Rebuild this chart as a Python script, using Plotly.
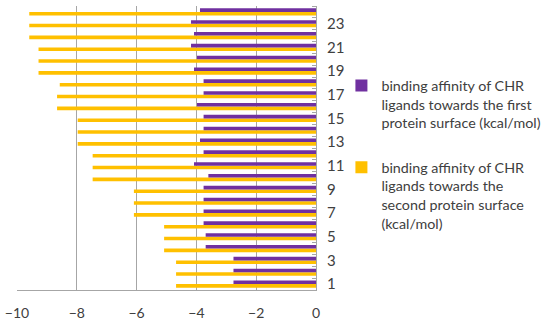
import plotly.graph_objects as go

categories = list(range(1, 25))
first_surface = [-2.76, -2.76, -2.76, -3.69, -3.69, -3.76, -3.76, -3.76, -3.76, -3.6, -4.08, -3.76,
                 -3.88, -3.76, -3.76, -3.98, -3.76, -3.76, -4.08, -3.98, -4.18, -4.08, -4.18, -3.88]
second_surface = [-4.68, -4.68, -4.68, -5.08, -5.08, -5.08, -6.09, -6.09, -6.09, -7.47, -7.47, -7.47,
                  -7.97, -7.97, -7.97, -8.66, -8.66, -8.57, -9.28, -9.28, -9.28, -9.59, -9.59, -9.59]
x_ticks = [-10, -8, -6, -4, -2, 0]
y_ticks = [1, 3, 5, 7, 9, 11, 13, 15, 17, 19, 21, 23]

name1 = "binding affinity of CHR<br>ligands towards the first<br>protein surface (kcal/mol)"
name2 = "binding affinity of CHR<br>ligands towards the<br>second protein surface<br>(kcal/mol)"

fig = go.Figure()
fig.add_trace(go.Bar(y=categories, x=second_surface, orientation="h", name=name2,
                     marker=dict(color="#FFC000", line=dict(width=0)), legendrank=2, legendgroup="b"))
fig.add_trace(go.Bar(y=categories, x=first_surface, orientation="h", name=name1,
                     marker=dict(color="#7030A0", line=dict(width=0)), legendrank=1, legendgroup="a"))

font = "Lato, Open Sans, sans-serif"
fig.update_layout(
    width=550, height=325,
    margin=dict(l=17, r=234, t=6, b=35, autoexpand=False),
    paper_bgcolor="white", plot_bgcolor="white",
    barmode="group", bargap=0.4, bargroupgap=0,
    font=dict(family=font, size=13, color="#404040"),
    legend=dict(x=1.085, xanchor="left", y=0.776, yanchor="top", valign="top",
                font=dict(size=14.3, color="#404040"), tracegroupgap=23,
                itemwidth=30, bgcolor="rgba(0,0,0,0)"),
    showlegend=True,
)
fig.update_xaxes(range=[-10, 0], tickvals=x_ticks, showgrid=True, gridcolor="#a6a6a6", gridwidth=1,
                 zeroline=False, showline=True, linecolor="#a6a6a6", ticks="", ticklabelstandoff=10,
                 automargin=False, tickfont=dict(size=14, color="#404040"))
fig.update_yaxes(range=[0.5, 24.5], side="right", tickvals=y_ticks, showgrid=False, zeroline=False,
                 showline=True, linecolor="#a6a6a6", ticks="", ticklabelstandoff=7, automargin=False,
                 tickfont=dict(size=15, color="#404040"),
                 minor=dict(tickmode="linear", tick0=0.5, dtick=1, ticks="inside", ticklen=4,
                            tickcolor="#a6a6a6", showgrid=False))

fig.write_html("out.html", config={"displayModeBar": False},
               post_script="document.body.style.margin='0';document.body.style.padding='0';")
